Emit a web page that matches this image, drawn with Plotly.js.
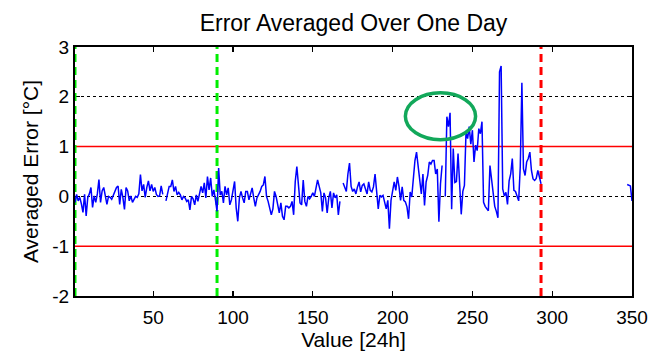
<!DOCTYPE html>
<html>
<head>
<meta charset="utf-8">
<script src="https://cdn.plot.ly/plotly-3.0.1.min.js"></script>
<style>html,body{margin:0;padding:0;background:#fff;}#chart{width:651px;height:354px;}</style>
</head>
<body>
<div id="chart"></div>
<script>
// Averaged error per day (°C); null = no data
const errorValues = [
  -0.12, 0.04, -0.09, -0.02, -0.15, -0.32, 0.04, -0.39, -0.02, 0.05,
  0.18, -0.22, 0.01, -0.12, 0.05, 0.34, -0.12, 0.11, 0.18, 0.0,
  -0.16, 0.0, -0.02, -0.06, 0.01, 0.1, 0.18, 0.21, -0.16, 0.14,
  -0.02, -0.26, 0.18, 0.11, -0.09, 0.01, -0.12, -0.06, 0.0, -0.02,
  0.05, 0.44, 0.11, 0.24, -0.02, 0.18, 0.31, 0.11, 0.24, 0.1,
  0.18, 0.04, 0.0, 0.01, 0.21, 0.04, null, -0.09, 0.1, 0.2,
  0.2, 0.33, 0.1, 0.2, 0.03, 0.08, 0.03, -0.07, 0.0, -0.03,
  -0.1, -0.07, -0.27, 0.0, -0.05, -0.17, 0.03, -0.1, 0.05, 0.2,
  0.07, 0.27, -0.03, 0.4, 0.13, 0.37, 0.0, 0.13, -0.07, -0.3,
  0.57, 0.03, 0.1, -0.13, 0.2, 0.03, 0.17, -0.17, -0.07, 0.1,
  0.3, -0.23, -0.5, -0.03, 0.1, -0.03, -0.13, 0.1, 0.1, -0.07,
  0.03, 0.17, -0.03, -0.2, -0.03, 0.03, 0.1, 0.2, 0.23, 0.4,
  0.0, -0.1, -0.27, -0.37, -0.25, 0.1, 0.0, -0.2, -0.33, -0.13,
  -0.4, -0.47, -0.2, -0.2, -0.23, -0.2, -0.1, -0.37, 0.3, 0.6,
  0.23, -0.13, -0.17, 0.33, -0.1, -0.2, 0.0, -0.05, 0.0, 0.07,
  0.0, 0.17, 0.33, 0.2, 0.07, -0.3, 0.07, -0.03, -0.33, -0.03,
  0.1, -0.23, 0.07, -0.03, 0.03, -0.37, -0.1, null, 0.27, 0.17,
  0.1, 0.45, 0.67, 0.2, 0.1, 0.15, 0.05, 0.19, 0.29, 0.09,
  0.22, 0.25, 0.17, 0.05, 0.29, 0.12, 0.09, 0.19, 0.45, 0.02,
  -0.25, 0.02, -0.01, 0.02, -0.11, -0.25, -0.08, -0.65, -0.08, 0.09,
  0.29, 0.12, 0.39, 0.2, -0.08, 0.19, -0.08, -0.11, -0.21, -0.45,
  0.09, -0.01, 0.42, 0.72, 0.89, 0.59, 0.29, 0.05, 0.45, -0.18,
  0.29, 0.42, 0.69, 0.65, 0.72, 0.72, 0.45, 0.55, -0.51, 0.25,
  0.62, null, 0.0, 1.6, 1.4, 1.68, -0.26, 0.96, 0.28, 0.3,
  0.86, 0.25, -0.36, 0.1, 0.22, 1.3, 1.16, 1.4, 1.05, 1.33,
  0.69, 1.03, 0.92, 1.36, 1.26, 1.5, -0.12, -0.2, -0.26, -0.29,
  0.62, 0.35, 0.0, -0.2, -0.3, -0.43, 2.5, 2.62, 0.15, 0.01,
  0.08, -0.16, 0.31, 0.45, 0.76, 0.12, 0.1, 0.0, -0.09, 0.6,
  2.28, 0.55, 0.42, 0.69, 0.76, 0.89, 0.52, 0.35, 0.32, 0.36,
  0.52, 0.39, 0.25, null, null, null, null, null, null, null,
  null, null, null, null, null, null, null, null, null, null,
  null, null, null, null, null, null, null, null, null, null,
  null, null, null, null, null, null, null, null, null, null,
  null, null, null, null, null, null, null, null, null, null,
  null, null, null, null, null, null, 0.24, 0.23, 0.21, -0.09
];
const days = errorValues.map((_, i) => i + 1);

const xRange = [1, 350];
const yRange = [-2, 3];
const xTickVals = [50, 100, 150, 200, 250, 300, 350];
const xTickText = ['50', '100', '150', '200', '250', '300', '350'];
const yTickVals = [-2, -1, 0, 1, 2, 3];
const yTickText = ['-2', '-1', '0', '1', '2', '3'];
const limitLevels = [1, -1];          // red limit lines
const greenMarkDays = [1, 90];        // green dashed markers
const redMarkDays = [293];            // red dashed marker
const highlightBox = {x: [208, 252], y: [1.14, 2.08]}; // green ellipse bounds

const font = 'Liberation Sans, Arial, Helvetica, sans-serif';
const traces = [];

limitLevels.forEach(v => traces.push({
  x: xRange, y: [v, v], mode: 'lines', hoverinfo: 'skip',
  line: {color: '#ff0000', width: 1.5}
}));
greenMarkDays.forEach(d => traces.push({
  x: [d, d], y: yRange, mode: 'lines', hoverinfo: 'skip',
  line: {color: '#00ee00', width: 3, dash: '8px,5px'}
}));
redMarkDays.forEach(d => traces.push({
  x: [d, d], y: yRange, mode: 'lines', hoverinfo: 'skip',
  line: {color: '#ff0000', width: 3, dash: '8px,5px'}
}));
traces.push({
  x: days, y: errorValues, mode: 'lines', connectgaps: false,
  line: {color: '#0000ff', width: 1.5}
});

const layout = {
  width: 651, height: 354,
  margin: {l: 75, r: 19, t: 47, b: 58},
  paper_bgcolor: '#fff', plot_bgcolor: '#fff',
  showlegend: false,
  font: {family: font, color: '#000', size: 19},
  title: {
    text: 'Error Averaged Over One Day',
    font: {family: font, size: 23, color: '#000'},
    x: 0.5, xref: 'paper', xanchor: 'center',
    y: 0.934, yref: 'container', yanchor: 'middle'
  },
  xaxis: {
    range: xRange, tickvals: xTickVals, ticktext: xTickText,
    ticks: 'inside', ticklen: 5, tickwidth: 1.3, tickcolor: '#000',
    showline: true, linecolor: '#000', linewidth: 2, mirror: 'ticks',
    showgrid: false, zeroline: false, ticklabelstandoff: 3,
    tickfont: {family: font, size: 19, color: '#000'},
    title: {text: 'Value [24h]', font: {family: font, size: 21, color: '#000'}, standoff: 6}
  },
  yaxis: {
    range: yRange, tickvals: yTickVals, ticktext: yTickText,
    ticks: 'inside', ticklen: 5, tickwidth: 1.3, tickcolor: '#000',
    showline: true, linecolor: '#000', linewidth: 2, mirror: 'ticks',
    showgrid: true, gridcolor: '#000', gridwidth: 1, griddash: 'dot',
    zeroline: false, layer: 'below traces',
    tickfont: {family: font, size: 19, color: '#000'},
    title: {text: 'Averaged Error [°C]', font: {family: font, size: 21, color: '#000'}, standoff: 8}
  },
  shapes: [{
    type: 'circle', xref: 'x', yref: 'y',
    x0: highlightBox.x[0], x1: highlightBox.x[1],
    y0: highlightBox.y[0], y1: highlightBox.y[1],
    line: {color: '#12a85a', width: 3.5}
  }]
};

Plotly.newPlot('chart', traces, layout, {staticPlot: true, displayModeBar: false});
</script>
</body>
</html>
